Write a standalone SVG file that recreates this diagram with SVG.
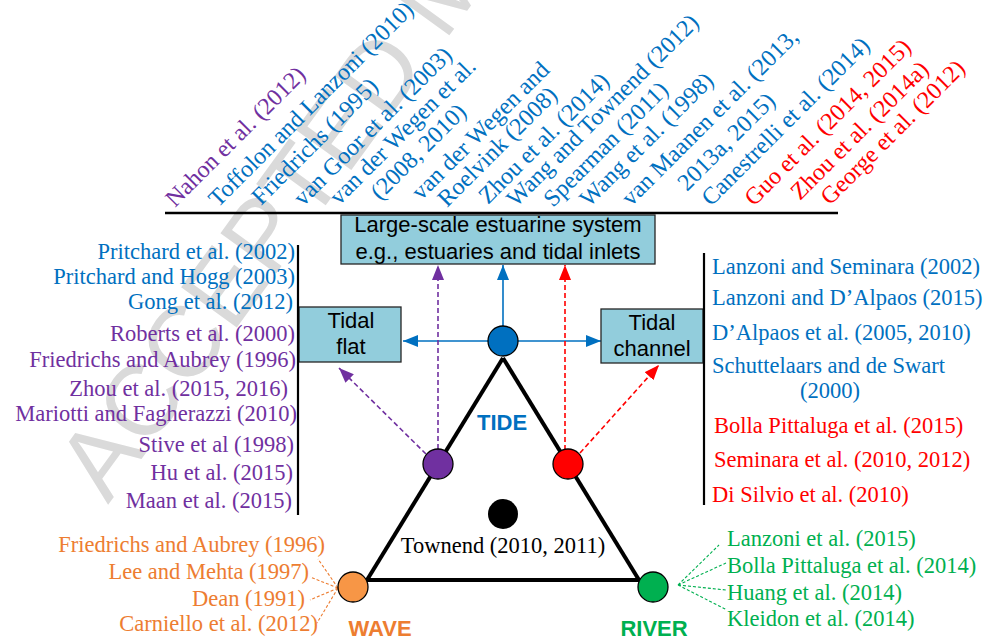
<svg xmlns="http://www.w3.org/2000/svg" width="987" height="638" viewBox="0 0 987 638">
<style>
.ref{font-family:"Liberation Serif","Times New Roman",serif;font-size:22.5px}
.rot{font-family:"Liberation Serif","Times New Roman",serif;font-size:24px}
.end{text-anchor:end}
.mid{text-anchor:middle}
.blue{fill:#0070C0}.purple{fill:#7030A0}.red{fill:#FF0000}.orange{fill:#ED7D31}.green{fill:#00B050}
.box{fill:#92CDDC;stroke:#262626;stroke-width:1.3}
.boxt{font-family:"Liberation Sans",Arial,sans-serif;font-size:22px;text-anchor:middle;fill:#000}
.lab{font-family:"Liberation Sans",Arial,sans-serif;font-size:22px;font-weight:bold;text-anchor:middle}
.node{stroke:#000;stroke-width:1.3}
.bar{stroke:#000;stroke-width:2.2;fill:none}
.tri{stroke:#000;stroke-width:4;fill:none}
.sb{stroke:#0070C0;stroke-width:1.6;fill:none}
.dp{stroke:#7030A0;stroke-width:1.6;stroke-dasharray:5 3;fill:none}
.dr{stroke:#FF0000;stroke-width:1.6;stroke-dasharray:5 3;fill:none}
.do{stroke:#ED7D31;stroke-width:1.1;stroke-dasharray:3 2;fill:none}
.dg{stroke:#00B050;stroke-width:1.1;stroke-dasharray:3 2;fill:none}
.wm{font-family:"Liberation Sans",Arial,sans-serif;font-size:100px;fill:#dadada}
</style>
<defs>
<marker id="ab" markerUnits="userSpaceOnUse" markerWidth="15" markerHeight="12" refX="15" refY="6" orient="auto"><path d="M0,0 L15,6 L0,12 z" fill="#0070C0"/></marker>
<marker id="ap" markerUnits="userSpaceOnUse" markerWidth="15" markerHeight="12" refX="15" refY="6" orient="auto"><path d="M0,0 L15,6 L0,12 z" fill="#7030A0"/></marker>
<marker id="ar" markerUnits="userSpaceOnUse" markerWidth="15" markerHeight="12" refX="15" refY="6" orient="auto"><path d="M0,0 L15,6 L0,12 z" fill="#FF0000"/></marker>
</defs>
<rect width="987" height="638" fill="#fff"/>
<text class="wm" transform="translate(108,505) rotate(-54)">ACCEPTED MANUSCRIPT</text>

<g id="connectors">
<line class="tri" x1="503" y1="358" x2="367" y2="580"/>
<line class="tri" x1="503" y1="358" x2="639" y2="580"/>
<line class="tri" x1="365" y1="580" x2="641" y2="580"/>
<line class="sb" x1="488" y1="341" x2="403" y2="341" marker-end="url(#ab)"/>
<line class="sb" x1="518" y1="341" x2="601" y2="341" marker-end="url(#ab)"/>
<line class="sb" x1="503" y1="326" x2="503" y2="265" marker-end="url(#ab)"/>
<line class="dp" x1="438" y1="449" x2="438" y2="265" marker-end="url(#ap)"/>
<line class="dp" x1="426" y1="454" x2="339" y2="368" marker-end="url(#ap)"/>
<line class="dr" x1="565" y1="450" x2="565" y2="265" marker-end="url(#ar)"/>
<line class="dr" x1="580" y1="453" x2="659" y2="365" marker-end="url(#ar)"/>
<path class="do" d="M338,588 L318,559 M338,588 L310,577 M338,588 L310,600 M338,588 L317,623"/>
<path class="dg" d="M678,585 L719,545 M678,585 L726,563 M678,585 L726,590 M678,585 L727,610"/>
</g>

<g id="estuarine-system">
<rect class="box" x="341" y="215" width="314" height="49"/>
<text class="boxt" x="498" y="232">Large-scale estuarine system</text>
<text class="boxt" x="498" y="259">e.g., estuaries and tidal inlets</text>
</g>
<g id="tidal-flat">
<rect class="box" x="299" y="307" width="102" height="55"/>
<text class="boxt" x="351" y="328">Tidal</text>
<text class="boxt" x="351" y="354">flat</text>
</g>
<g id="tidal-channel">
<rect class="box" x="601" y="309" width="102" height="54"/>
<text class="boxt" x="652" y="330">Tidal</text>
<text class="boxt" x="652" y="356">channel</text>
</g>

<g id="tide">
<circle class="node" cx="503" cy="341" r="15" fill="#0070C0"/>
<text class="lab" x="502" y="430" fill="#0070C0">TIDE</text>
</g>
<g id="tide-wave">
<circle class="node" cx="438" cy="464" r="15" fill="#7030A0"/>
</g>
<g id="tide-river">
<circle class="node" cx="568" cy="464" r="15" fill="#FF0000"/>
</g>
<g id="townend">
<circle cx="503" cy="514" r="15" fill="#000"/>
<text class="ref mid" x="503" y="553" fill="#000">Townend (2010, 2011)</text>
</g>
<g id="wave">
<circle class="node" cx="353" cy="587" r="15" fill="#F79646"/>
<text class="lab" x="380" y="636" fill="#ED7D31">WAVE</text>
</g>
<g id="river">
<circle class="node" cx="653" cy="587" r="15" fill="#00B050"/>
<text class="lab" x="654" y="636" fill="#00B050">RIVER</text>
</g>

<g id="top-references">
<line class="bar" x1="165" y1="213" x2="838" y2="213" style="stroke-width:2.6"/>
<text class="rot purple" transform="translate(175,208) rotate(-45)">Nahon et al. (2012)</text>
<text class="rot blue" transform="translate(218,208) rotate(-45)">Toffolon and Lanzoni (2010)</text>
<text class="rot blue" transform="translate(261,206) rotate(-45)">Friedrichs (1995)</text>
<text class="rot blue" transform="translate(303,207) rotate(-45)">van Goor et al. (2003)</text>
<text class="rot blue" transform="translate(339,206) rotate(-45)">van der Wegen et al.</text>
<text class="rot blue" transform="translate(380,201) rotate(-45)">(2008, 2010)</text>
<text class="rot blue" transform="translate(421,201) rotate(-45)">van der Wegen and</text>
<text class="rot blue" transform="translate(447,208) rotate(-45)">Roelvink (2008)</text>
<text class="rot blue" transform="translate(488,205) rotate(-45)">Zhou et al. (2014)</text>
<text class="rot blue" transform="translate(516,208) rotate(-45)">Wang and Townend (2012)</text>
<text class="rot blue" transform="translate(553,208) rotate(-45)">Spearman (2011)</text>
<text class="rot blue" transform="translate(589,208) rotate(-45)">Wang et al. (1998)</text>
<text class="rot blue" transform="translate(631,207) rotate(-45)">van Maanen et al. (2013,</text>
<text class="rot blue" transform="translate(687,192) rotate(-45)">2013a, 2015)</text>
<text class="rot blue" transform="translate(711,207) rotate(-45)">Canestrelli et al. (2014)</text>
<text class="rot red" transform="translate(754,207) rotate(-45)">Guo et al. (2014, 2015)</text>
<text class="rot red" transform="translate(800,201) rotate(-45)">Zhou et al. (2014a)</text>
<text class="rot red" transform="translate(830,206) rotate(-45)">George et al. (2012)</text>
</g>

<g id="tidal-flat-references">
<line class="bar" x1="298" y1="245" x2="298" y2="515"/>
<text class="ref end blue" x="295" y="259">Pritchard et al. (2002)</text>
<text class="ref end blue" x="295" y="284">Pritchard and Hogg (2003)</text>
<text class="ref end blue" x="293" y="309">Gong et al. (2012)</text>
<text class="ref end purple" x="295" y="341">Roberts et al. (2000)</text>
<text class="ref end purple" x="296" y="367">Friedrichs and Aubrey (1996)</text>
<text class="ref end purple" x="288" y="396">Zhou et al. (2015, 2016)</text>
<text class="ref end purple" x="297" y="421">Mariotti and Fagherazzi (2010)</text>
<text class="ref end purple" x="294" y="452">Stive et al (1998)</text>
<text class="ref end purple" x="293" y="480">Hu et al. (2015)</text>
<text class="ref end purple" x="292" y="508">Maan et al. (2015)</text>
</g>

<g id="tidal-channel-references">
<line class="bar" x1="704" y1="253" x2="704" y2="505"/>
<text class="ref blue" x="712" y="274">Lanzoni and Seminara (2002)</text>
<text class="ref blue" x="712" y="305">Lanzoni and D’Alpaos (2015)</text>
<text class="ref blue" x="712" y="340">D’Alpaos et al. (2005, 2010)</text>
<text class="ref blue" x="712" y="373">Schuttelaars and de Swart</text>
<text class="ref blue mid" x="830" y="398">(2000)</text>
<text class="ref red" x="714" y="433">Bolla Pittaluga et al. (2015)</text>
<text class="ref red" x="714" y="467">Seminara et al. (2010, 2012)</text>
<text class="ref red" x="712" y="502">Di Silvio et al. (2010)</text>
</g>

<g id="wave-references">
<text class="ref end orange" x="325" y="552">Friedrichs and Aubrey (1996)</text>
<text class="ref end orange" x="309" y="579">Lee and Mehta (1997)</text>
<text class="ref end orange" x="305" y="606">Dean (1991)</text>
<text class="ref end orange" x="318" y="631">Carniello et al.  (2012)</text>
</g>

<g id="river-references">
<text class="ref green" x="727" y="546">Lanzoni et al. (2015)</text>
<text class="ref green" x="727" y="573">Bolla Pittaluga et al. (2014)</text>
<text class="ref green" x="727" y="600">Huang et al. (2014)</text>
<text class="ref green" x="727" y="626">Kleidon et al. (2014)</text>
</g>
</svg>
